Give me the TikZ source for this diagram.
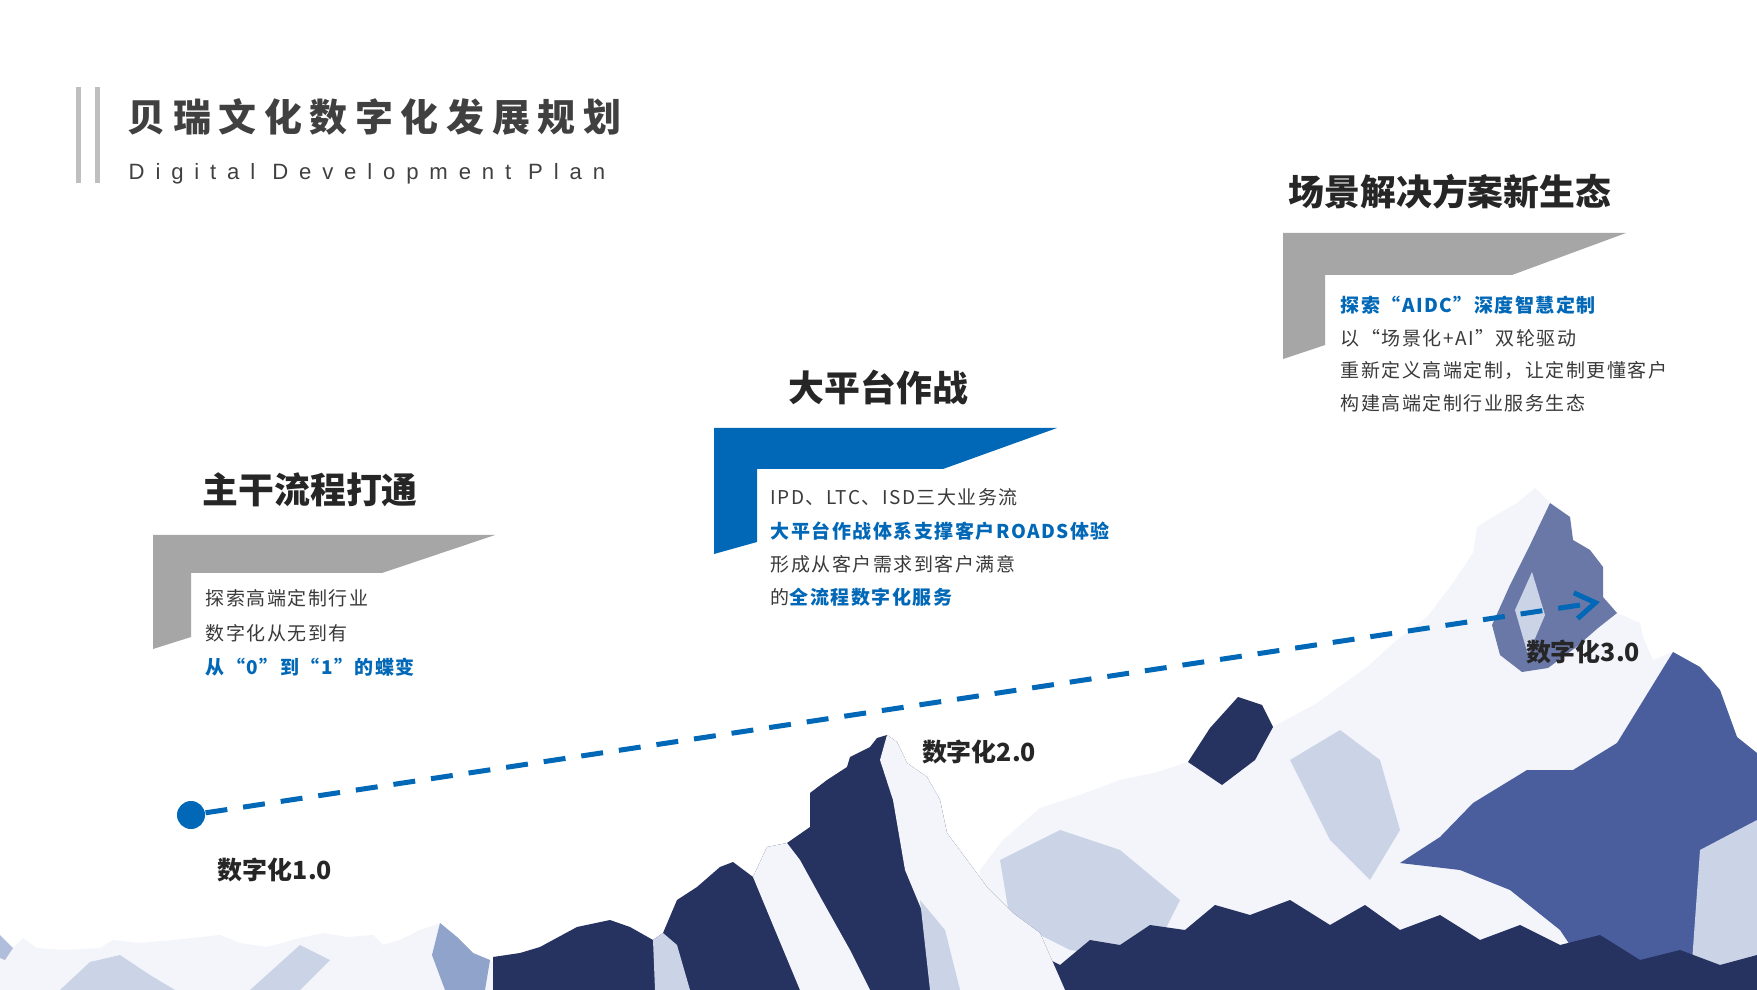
\documentclass[tikz,border=0pt]{standalone}
\usepackage{fontspec}
\setmainfont{Liberation Sans}
\newfontfamily\cjk{Noto Sans CJK SC}
\newfontfamily\cjkbody[LetterSpace=8]{Noto Sans CJK SC}
\newfontfamily\cjktitle[LetterSpace=20]{Noto Sans CJK SC}
\newfontfamily\subfont[LetterSpace=49]{Liberation Sans}
\usetikzlibrary{arrows.meta}

\definecolor{brandblue}{HTML}{0068B7}
\definecolor{panelgray}{HTML}{A6A6A6}
\definecolor{bargray}{HTML}{BFBFBF}
\definecolor{titlegray}{HTML}{404040}
\definecolor{headgray}{HTML}{262626}
\definecolor{bodygray}{HTML}{3A3A3A}
\definecolor{snow}{HTML}{F3F5FA}
\definecolor{snowshade}{HTML}{CBD4E7}
\definecolor{iceblue}{HTML}{8FA3CB}
\definecolor{facemid}{HTML}{4A5E9E}
\definecolor{rockmid}{HTML}{6A78A8}
\definecolor{rockdark}{HTML}{26325F}

\tikzset{
  heading/.style={anchor=west, inner sep=0pt, text=headgray,
    font=\cjk\bfseries\fontsize{10.2pt}{12pt}\selectfont},
  bodyline/.style={anchor=west, inner sep=0pt, text=bodygray,
    font=\cjkbody\fontsize{5.4pt}{6pt}\selectfont},
  keyline/.style={bodyline, text=brandblue, font=\cjkbody\bfseries\fontsize{5.4pt}{6pt}\selectfont},
  stagelabel/.style={inner sep=0pt, text=headgray,
    font=\cjk\bfseries\fontsize{7.1pt}{8pt}\selectfont},
  dot/.style={circle, fill=brandblue, inner sep=0pt, minimum size=2.8mm},
  pathline/.style={brandblue, line width=0.5mm, dash pattern=on 2.2mm off 1.6mm,
    -{Straight Barb[length=2mm,width=2.6mm,line width=0.5mm]}}
}

\begin{document}
\begin{tikzpicture}[x=0.1mm,y=-0.1mm]
  \useasboundingbox (0,0) rectangle (1757,990);
  \fill[white] (0,0) rectangle (1757,990);

  % title
  \fill[bargray] (76,87) rectangle (80.5,183);
  \fill[bargray] (95,87) rectangle (99.5,183);
  \node[anchor=west, inner sep=0pt, text=titlegray,
    font=\cjktitle\bfseries\fontsize{10.8pt}{12pt}\selectfont] (title) at (127,117) {贝瑞文化数字化发展规划};
  \node[anchor=west, inner sep=0pt, text=titlegray,
    font=\subfont\fontsize{6.3pt}{7pt}\selectfont] (subtitle) at (128,174) {Digital Development Plan};

  % mountains, left ridges
  \fill[snow] (0,990) -- (0,935) -- (13,948) -- (23,938) -- (37,948) -- (63,950) -- (100,948)
    -- (113,940) -- (140,943) -- (173,940) -- (220,935) -- (240,943) -- (267,947) -- (300,938)
    -- (323,933) -- (347,937) -- (373,935) -- (383,945) -- (400,940) -- (420,930) -- (440,923)
    -- (457,937) -- (473,953) -- (490,960) -- (520,990) -- cycle;
  \fill[snowshade] (60,990) -- (90,962) -- (120,955) -- (150,975) -- (175,990) -- cycle;
  \fill[snowshade] (250,990) -- (300,945) -- (330,960) -- (300,990) -- cycle;
  \fill[iceblue] (440,923) -- (457,937) -- (473,953) -- (490,960) -- (485,990) -- (445,990)
    -- (432,955) -- cycle;
  \fill[iceblue!70] (0,935) -- (13,948) -- (5,960) -- (0,958) -- cycle;

  % big right mountain
  \fill[snow] (975,990) -- (980,870) -- (1003,840) -- (1040,808) -- (1080,795) -- (1120,780)
    -- (1154,773) -- (1188,762) -- (1210,728) -- (1238,697) -- (1262,705) -- (1273,727)
    -- (1317,703) -- (1367,667) -- (1397,640) -- (1427,617) -- (1453,583) -- (1473,553)
    -- (1477,527) -- (1493,517) -- (1517,503) -- (1535,488) -- (1550,503) -- (1570,517)
    -- (1573,540) -- (1590,550) -- (1603,567) -- (1603,597) -- (1617,613) -- (1640,623)
    -- (1643,637) -- (1653,660) -- (1673,652) -- (1700,667) -- (1720,690) -- (1737,737)
    -- (1750,747) -- (1757,753) -- (1757,990) -- cycle;
  \fill[snowshade] (1000,860) -- (1060,830) -- (1120,850) -- (1180,900) -- (1150,960)
    -- (1070,950) -- (1010,920) -- cycle;
  \fill[snowshade] (1290,760) -- (1340,730) -- (1380,760) -- (1400,830) -- (1370,880)
    -- (1330,840) -- cycle;
  \fill[rockdark] (1188,762) -- (1210,728) -- (1238,697) -- (1262,705) -- (1273,727)
    -- (1255,760) -- (1222,785) -- cycle;
  \fill[rockmid] (1550,503) -- (1570,517) -- (1573,540) -- (1590,550) -- (1603,567)
    -- (1603,597) -- (1617,613) -- (1598,628) -- (1575,648) -- (1548,668) -- (1522,672)
    -- (1500,655) -- (1492,625) -- (1510,585) -- (1530,545) -- cycle;
  \fill[snowshade] (1515,610) -- (1532,572) -- (1545,615) -- (1528,655) -- cycle;
  \fill[facemid] (1673,652) -- (1700,667) -- (1720,690) -- (1737,737) -- (1757,753)
    -- (1757,990) -- (1600,990) -- (1560,930) -- (1510,890) -- (1460,870) -- (1400,863)
    -- (1440,837) -- (1473,803) -- (1527,770) -- (1573,770) -- (1617,743) -- cycle;
  \fill[snowshade] (1700,850) -- (1757,820) -- (1757,990) -- (1690,990) -- cycle;
  \fill[rockdark] (975,990) -- (1000,960) -- (1030,950) -- (1060,965) -- (1090,940)
    -- (1120,945) -- (1150,925) -- (1185,930) -- (1215,905) -- (1250,915) -- (1290,900)
    -- (1330,925) -- (1365,905) -- (1400,930) -- (1440,915) -- (1480,940) -- (1520,925)
    -- (1560,945) -- (1600,935) -- (1640,960) -- (1680,950) -- (1720,965) -- (1757,955)
    -- (1757,990) -- cycle;

  % middle mountain
  \fill[rockdark] (493,990) -- (493,957) -- (520,953) -- (540,947) -- (577,927) -- (610,920)
    -- (630,927) -- (653,940) -- (663,933) -- (677,900) -- (697,887) -- (720,867) -- (733,862)
    -- (753,877) -- (767,847) -- (787,843) -- (810,827) -- (810,793) -- (827,780) -- (847,767)
    -- (850,757) -- (870,747) -- (877,738) -- (887,735) -- (897,742) -- (907,763) -- (927,777)
    -- (940,800) -- (947,833) -- (967,860) -- (987,887) -- (1013,913) -- (1040,933)
    -- (1065,990) -- cycle;
  \fill[snow] (887,735) -- (897,742) -- (907,763) -- (927,777) -- (940,800) -- (947,833)
    -- (967,860) -- (987,887) -- (1013,913) -- (1040,933) -- (1065,990) -- (960,990)
    -- (930,930) -- (905,870) -- (893,800) -- (880,760) -- cycle;
  \fill[snow] (753,877) -- (767,847) -- (787,843) -- (800,860) -- (822,900) -- (850,950)
    -- (870,990) -- (800,990) -- (775,930) -- cycle;
  \fill[snowshade] (653,940) -- (663,933) -- (677,945) -- (690,990) -- (655,990) -- cycle;
  \fill[snowshade] (920,900) -- (945,930) -- (960,990) -- (930,990) -- cycle;

  % panel 1
  \fill[panelgray] (153,535) -- (495,535) -- (382,573) -- (191,573) -- (191,637) -- (153,649) -- cycle;
  \node[heading] (h1) at (202,490) {主干流程打通};
  \node[bodyline] (p1a) at (205,598) {探索高端定制行业};
  \node[bodyline] (p1b) at (205,633) {数字化从无到有};
  \node[keyline] (p1c) at (205,667) {从“0”到“1”的蝶变};

  % panel 2
  \fill[brandblue] (714,428) -- (1057,428) -- (943,469) -- (757,469) -- (757,542) -- (714,554) -- cycle;
  \node[heading] (h2) at (788,387) {大平台作战};
  \node[bodyline] (p2a) at (770,497) {IPD、LTC、ISD三大业务流};
  \node[keyline] (p2b) at (770,531) {大平台作战体系支撑客户ROADS体验};
  \node[bodyline] (p2c) at (770,564) {形成从客户需求到客户满意};
  \node[bodyline] (p2d) at (770,597) {的{\bfseries\color{brandblue}全流程数字化服务}};

  % panel 3
  \fill[panelgray] (1283,233) -- (1626,233) -- (1512,275) -- (1325,275) -- (1325,345) -- (1283,359) -- cycle;
  \node[heading] (h3) at (1288,192) {场景解决方案新生态};
  \node[keyline] (p3a) at (1340,305) {探索“AIDC”深度智慧定制};
  \node[bodyline] (p3b) at (1340,338) {以“场景化+AI”双轮驱动};
  \node[bodyline] (p3c) at (1340,370) {重新定义高端定制，让定制更懂客户};
  \node[bodyline] (p3d) at (1340,403) {构建高端定制行业服务生态};

  % growth path
  \node[dot] (start) at (191,815) {};
  \coordinate (tip) at (1600,602);
  \draw[pathline] (start) -- (tip);
  \node[stagelabel] (s1) at (275,870) {数字化1.0};
  \node[stagelabel] (s2) at (979,752) {数字化2.0};
  \node[stagelabel] (s3) at (1583,652) {数字化3.0};
\end{tikzpicture}
\end{document}
